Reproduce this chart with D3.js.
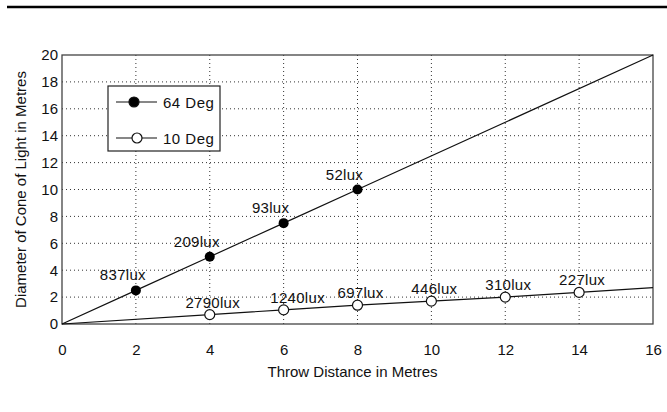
<!DOCTYPE html>
<html><head><meta charset="utf-8">
<script src="https://cdn.jsdelivr.net/npm/d3@7"></script>
<style>
body{margin:0;background:#fff;}
text{font-family:"Liberation Sans",Arial,sans-serif;fill:#111;}
</style></head>
<body><svg id="c" width="667" height="412"></svg>
<script>
const xTicks=[0,2,4,6,8,10,12,14,16];
const yTicks=[0,2,4,6,8,10,12,14,16,18,20];
const wideX=[0,2,4,6,8,16];
const wideY=[0,2.5,5,7.5,10,20];
const wideLabels=["","837lux","209lux","93lux","52lux",""];
const narrowX=[0,4,6,8,10,12,14,16];
const narrowY=[0,0.7,1.05,1.4,1.7,2.0,2.35,2.7];
const narrowLabels=["","2790lux","1240lux","697lux","446lux","310lux","227lux",""];
const seriesNames=["64 Deg","10 Deg"];

const svg=d3.select("#c");
const m={l:62,r:653,t:55,b:324};
const x=d3.scaleLinear().domain([0,16]).range([m.l,m.r]);
const y=d3.scaleLinear().domain([0,20]).range([m.b,m.t]);
const FF="Liberation Sans, Arial, sans-serif";

svg.append("line").attr("x1",7).attr("x2",667).attr("y1",7).attr("y2",7).attr("stroke","#000").attr("stroke-width",2.3);

// grid
const g=svg.append("g");
g.selectAll(".gx").data(xTicks.slice(1,-1)).enter().append("line")
 .attr("x1",d=>x(d)).attr("x2",d=>x(d)).attr("y1",m.t).attr("y2",m.b)
 .attr("stroke","#333").attr("stroke-width",1).attr("stroke-dasharray","1,3");
g.selectAll(".gy").data(yTicks.slice(1,-1)).enter().append("line")
 .attr("y1",d=>y(d)).attr("y2",d=>y(d)).attr("x1",m.l).attr("x2",m.r)
 .attr("stroke","#333").attr("stroke-width",1).attr("stroke-dasharray","1,3");

svg.append("rect").attr("x",m.l).attr("y",m.t).attr("width",m.r-m.l).attr("height",m.b-m.t)
 .attr("fill","none").attr("stroke","#444").attr("stroke-width",1.3);

// axes
const xa=svg.append("g").attr("transform",`translate(0,${m.b})`)
 .call(d3.axisBottom(x).tickValues(xTicks).tickSize(0).tickPadding(20).tickFormat(d3.format("d")));
xa.select(".domain").remove();
xa.selectAll("text").attr("font-size",15).attr("font-family",FF).attr("fill","#111");
const ya=svg.append("g").attr("transform",`translate(${m.l},0)`)
 .call(d3.axisLeft(y).tickValues(yTicks).tickSize(0).tickPadding(4).tickFormat(d3.format("d")));
ya.select(".domain").remove();
ya.selectAll("text").attr("font-size",15).attr("font-family",FF).attr("fill","#111");

svg.append("text").attr("x",(m.l+m.r)/2-5).attr("y",377).attr("text-anchor","middle").attr("font-size",15).text("Throw Distance in Metres");
svg.append("text").attr("transform",`translate(26,${(m.t+m.b)/2}) rotate(-90)`).attr("text-anchor","middle").attr("font-size",15).text("Diameter of Cone of Light in Metres");

const line=d3.line().x(d=>x(d[0])).y(d=>y(d[1]));
const wide=wideX.map((v,i)=>[v,wideY[i],wideLabels[i]]);
const narrow=narrowX.map((v,i)=>[v,narrowY[i],narrowLabels[i]]);
svg.append("path").attr("d",line(wide)).attr("fill","none").attr("stroke","#111").attr("stroke-width",1.2);
svg.append("path").attr("d",line(narrow)).attr("fill","none").attr("stroke","#111").attr("stroke-width",1.2);

const wp=wide.filter(d=>d[2]);
svg.selectAll(".wp").data(wp).enter().append("circle").attr("cx",d=>x(d[0])).attr("cy",d=>y(d[1])).attr("r",5).attr("fill","#000");
svg.selectAll(".wl").data(wp).enter().append("text").attr("x",d=>x(d[0])-13).attr("y",d=>y(d[1])-10)
 .attr("text-anchor","middle").attr("font-size",15).attr("letter-spacing",0.3).text(d=>d[2]);
const np=narrow.filter(d=>d[2]);
const nudge={"1240lux":11};
svg.selectAll(".np").data(np).enter().append("circle").attr("cx",d=>x(d[0])).attr("cy",d=>y(d[1])).attr("r",5).attr("fill","#fff").attr("stroke","#111").attr("stroke-width",1.2);
svg.selectAll(".nl").data(np).enter().append("text").attr("x",d=>x(d[0])+3+(nudge[d[2]]||0)).attr("y",d=>y(d[1])-7)
 .attr("text-anchor","middle").attr("font-size",15).attr("letter-spacing",0.3).text(d=>d[2]);

// legend
const lg=svg.append("g");
lg.append("rect").attr("x",108).attr("y",86).attr("width",112).attr("height",65).attr("fill","#fff").attr("stroke","#222").attr("stroke-width",1.2);
const ly=[102,138];
seriesNames.forEach((n,i)=>{
  lg.append("line").attr("x1",116).attr("x2",157).attr("y1",ly[i]).attr("y2",ly[i]).attr("stroke","#111").attr("stroke-width",1.2);
  lg.append("circle").attr("cx",i?137:134).attr("cy",ly[i]).attr("r",5).attr("fill",i?"#fff":"#000").attr("stroke","#111").attr("stroke-width",1.2);
  lg.append("text").attr("x",163).attr("y",ly[i]+5.5).attr("font-size",15).attr("letter-spacing",0.5).text(n);
});
</script></body></html>
